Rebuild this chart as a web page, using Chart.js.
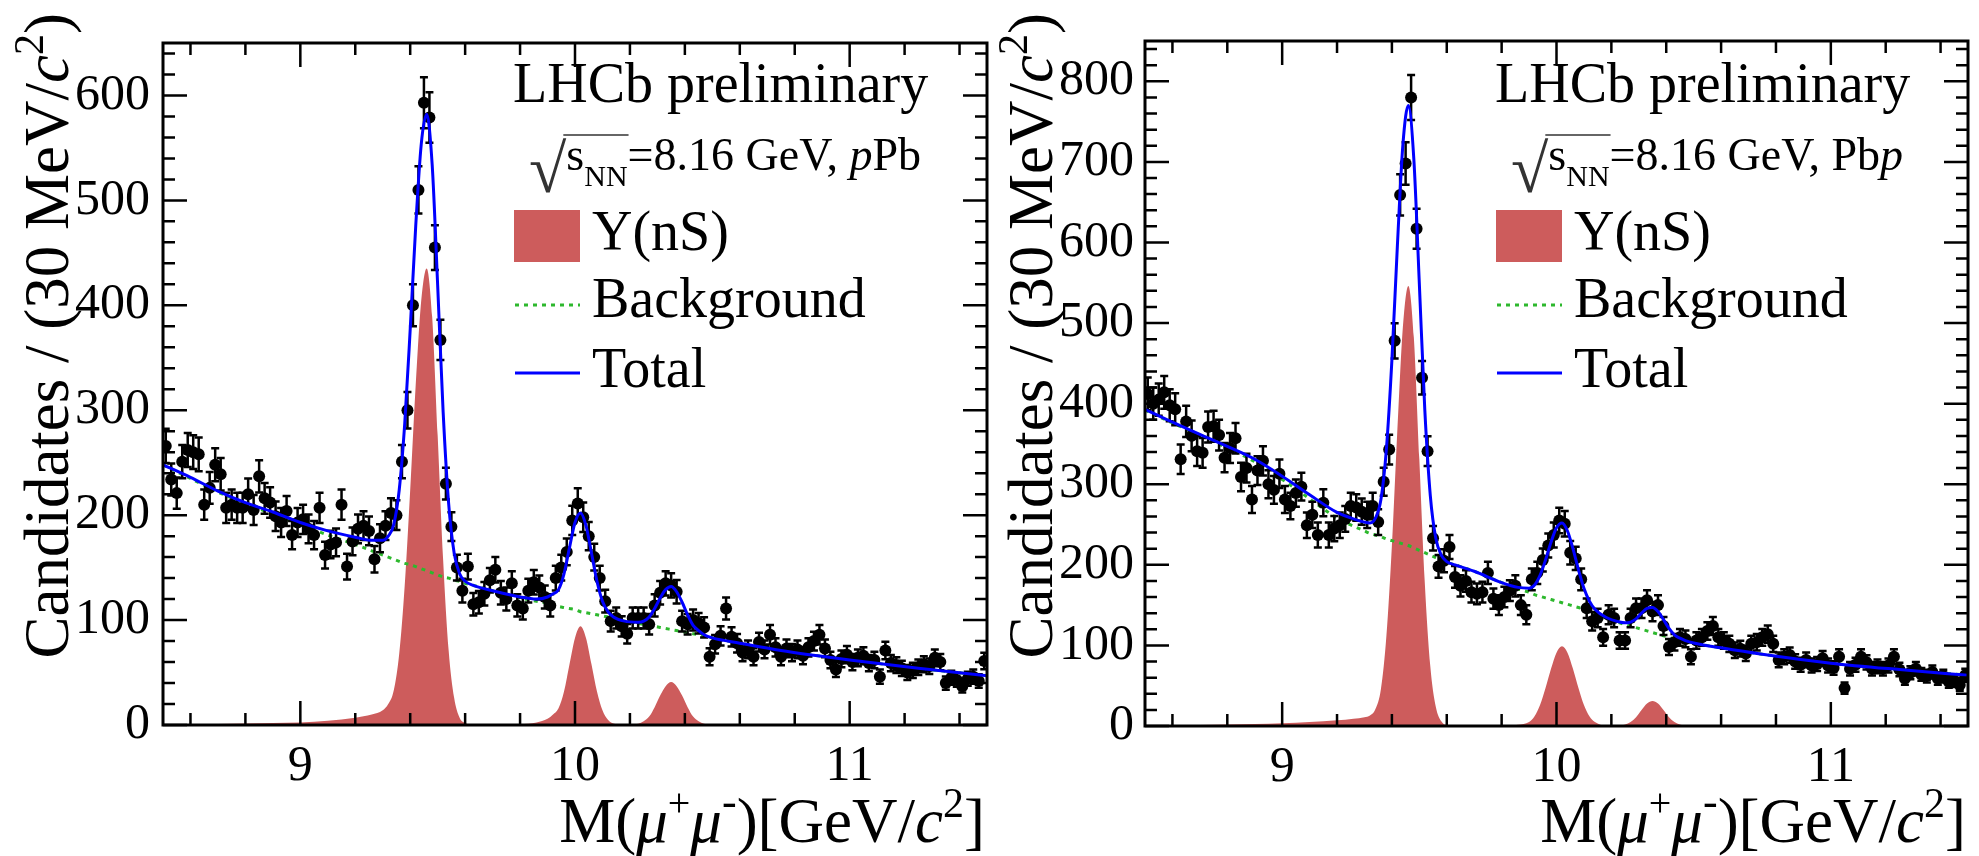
<!DOCTYPE html>
<html>
<head>
<meta charset="utf-8">
<script src="https://cdn.jsdelivr.net/npm/chart.js@4/dist/chart.umd.min.js"></script>
<style>
  html, body { margin: 0; padding: 0; background: #fff; }
  body { width: 1979px; height: 856px; position: relative; overflow: hidden; }
  canvas { position: absolute; top: 0; }
  #chartPPb { left: 0; }
  #chartPbp { left: 990px; }
</style>
</head>
<body>
<canvas id="chartPPb" width="995" height="856"></canvas>
<canvas id="chartPbp" width="989" height="856"></canvas>
<script>
// bin centres of the mass histogram (GeV/c^2)
const binCenters = [
  8.51,8.53,8.55,8.57,8.59,8.61,8.63,8.65,8.67,8.69,
  8.71,8.73,8.75,8.77,8.79,8.81,8.83,8.85,8.87,8.89,
  8.91,8.93,8.95,8.97,8.99,9.01,9.03,9.05,9.07,9.09,
  9.11,9.13,9.15,9.17,9.19,9.21,9.23,9.25,9.27,9.29,
  9.31,9.33,9.35,9.37,9.39,9.41,9.43,9.45,9.47,9.49,
  9.51,9.53,9.55,9.57,9.59,9.61,9.63,9.65,9.67,9.69,
  9.71,9.73,9.75,9.77,9.79,9.81,9.83,9.85,9.87,9.89,
  9.91,9.93,9.95,9.97,9.99,10.01,10.03,10.05,10.07,10.09,
  10.11,10.13,10.15,10.17,10.19,10.21,10.23,10.25,10.27,10.29,
  10.31,10.33,10.35,10.37,10.39,10.41,10.43,10.45,10.47,10.49,
  10.51,10.53,10.55,10.57,10.59,10.61,10.63,10.65,10.67,10.69,
  10.71,10.73,10.75,10.77,10.79,10.81,10.83,10.85,10.87,10.89,
  10.91,10.93,10.95,10.97,10.99,11.01,11.03,11.05,11.07,11.09,
  11.11,11.13,11.15,11.17,11.19,11.21,11.23,11.25,11.27,11.29,
  11.31,11.33,11.35,11.37,11.39,11.41,11.43,11.45,11.47,11.49
];

const countsPPb = [
  266,234,221,251,262,260,258,210,226,248,
  239,207,210,207,207,220,205,237,216,212,
  199,193,204,181,193,196,187,181,207,162,
  172,174,210,151,175,187,190,185,158,178,
  190,202,200,251,300,400,510,593,579,455,
  367,230,189,150,128,151,115,117,125,138,
  148,126,120,135,114,111,128,136,131,122,
  114,140,150,165,195,211,198,180,160,140,
  118,99,102,94,87,102,102,102,96,114,
  126,135,133,127,99,96,100,97,93,65,
  77,85,111,84,78,69,72,65,79,72,
  86,74,65,73,69,72,66,74,80,86,
  73,62,53,63,67,60,64,66,59,62,
  46,71,59,57,54,50,52,55,58,56,
  64,60,40,45,43,37,44,46,42,61
];

const countsPbp = [
  412,400,405,414,398,393,331,378,360,341,
  339,371,372,361,333,345,357,309,320,281,
  317,329,300,293,313,281,273,289,297,249,
  262,237,277,237,245,249,257,273,271,266,
  262,273,253,303,343,478,659,698,780,617,
  432,341,233,198,205,222,185,174,180,166,
  164,166,190,158,150,160,168,174,150,138,
  182,190,206,224,237,255,251,215,208,182,
  146,130,134,110,138,134,106,106,134,146,
  146,156,142,150,124,98,104,110,108,86,
  106,110,118,124,110,106,102,94,96,90,
  102,104,110,114,102,82,86,88,80,76,
  82,75,77,84,75,72,86,47,71,76,
  86,79,71,74,71,75,86,70,59,66,
  71,64,62,67,59,62,55,56,51,63
];

const fitMass = [
  8.50,8.60,8.70,8.80,8.90,9.00,9.10,9.20,9.26,9.30,
  9.32,9.34,9.36,9.38,9.40,9.42,9.44,9.46,9.48,9.50,
  9.52,9.54,9.56,9.58,9.60,9.63,9.70,9.80,9.86,9.90,
  9.92,9.94,9.96,9.98,10.00,10.02,10.04,10.06,10.08,10.10,
  10.12,10.14,10.18,10.23,10.25,10.27,10.29,10.31,10.33,10.35,
  10.37,10.39,10.41,10.43,10.45,10.47,10.50,10.60,10.75,11.00,
  11.25,11.50
];

const signalPPb = [
  0.5,0.7,1,1.5,2,2.5,4,7,10,14,
  20,33,68,133,224,324,404,435,389,276,
  157,71,26,7,2,0.5,0.3,0.8,2.5,6,
  10,16,32,58,83,94,83,58,32,14,
  5,1.4,0.3,1.2,3.5,8,17,28,37,41,
  37,28,17,8,3.5,1.2,0.3,0,0,0,
  0,0
];
const backgroundPPb = [
  248,235,222,211,201,191,181,172,166,162,
  160,158,156,154,153,151,149,147,145,143,
  141,140,138,137,135,133,128,121,118,116,
  115,113,112,111,110,108,107,106,105,104,
  103,102,99,97,96,95,94,93,92,91,
  90,89,88,87,86,85,83,78,71,62,
  54,47
];
const totalPPb = [
  248,236,223,212,203,193,185,179,176,176,
  180,191,224,287,377,475,553,582,534,419,
  298,211,164,144,137,133,128,122,120,122,
  125,129,144,169,193,202,190,164,137,118,
  108,103,99,98,99,103,111,121,129,132,
  127,117,105,95,90,86,83,78,71,62,
  54,47
];

const signalPbp = [
  0.6,0.9,1.3,2,2.5,3.5,5,7,9,11,
  13,21,46,112,224,368,495,546,482,331,
  177,74,24,6,1.2,0.3,0.2,0.5,1.5,5,
  12,26,47,71,91,99,91,71,47,26,
  12,5,0.5,0.6,2,5,11,20,28,31,
  28,20,11,5,2,0.6,0.1,0,0,0,
  0,0
];
const backgroundPbp = [
  392,376,361,345,328,306,282,258,248,242,
  239,237,235,232,230,228,226,224,221,218,
  215,212,209,206,203,200,192,178,170,166,
  163,161,159,157,155,153,151,149,147,145,
  143,140,134,128,126,124,122,120,118,116,
  114,112,110,108,107,105,103,97,89,78,
  70,63
];
const totalPbp = [
  393,377,362,347,331,310,287,265,257,253,
  252,258,281,344,454,596,721,770,703,549,
  392,286,233,212,204,200,192,178,172,171,
  175,187,206,228,246,252,242,220,194,171,
  155,145,135,129,128,129,133,140,146,147,
  142,132,121,113,109,106,103,97,89,78,
  70,63
];

const massTicks = [9, 10, 11];
const countTicksPPb = [0, 100, 200, 300, 400, 500, 600];
const countTicksPbp = [0, 100, 200, 300, 400, 500, 600, 700, 800];

const FONT = '"Liberation Serif", "Times New Roman", serif';
const RED = '#cd5c5c';
const GREEN = '#2db82d';
const BLUE = '#0000ff';

const panels = [
  {
    id: 'chartPPb', counts: countsPPb, signal: signalPPb, background: backgroundPPb, total: totalPPb,
    yMax: 650, yTicks: countTicksPPb,
    beam: [{ text: '=8.16 GeV, ', size: 46 }, { text: 'p', size: 46, italic: true }, { text: 'Pb', size: 46 }],
    box: { left: 163, top: 14, right: 8, bottom: 131 }, titleX: 68, labelPad: 13
  },
  {
    id: 'chartPbp', counts: countsPbp, signal: signalPbp, background: backgroundPbp, total: totalPbp,
    yMax: 850, yTicks: countTicksPbp,
    beam: [{ text: '=8.16 GeV, Pb', size: 46 }, { text: 'p', size: 46, italic: true }],
    box: { left: 155, top: 13, right: 11, bottom: 130 }, titleX: 62, labelPad: 11
  }
];

const yTitleParts = [
  { text: 'Candidates / (30 MeV/', size: 63 },
  { text: 'c', size: 63, italic: true },
  { text: '2', size: 42, dy: -25 },
  { text: ')', size: 63 }
];
const xTitleParts = [
  { text: 'M(', size: 63 },
  { text: 'μ', size: 63, italic: true },
  { text: '+', size: 40, dy: -26 },
  { text: 'μ', size: 63, italic: true },
  { text: '-', size: 44, dy: -26 },
  { text: ')[GeV/', size: 63 },
  { text: 'c', size: 63, italic: true },
  { text: '2', size: 42, dy: -25 },
  { text: ']', size: 63 }
];

function setFont(ctx, size, italic) {
  ctx.font = (italic ? 'italic ' : '') + size + 'px ' + FONT;
}

function drawParts(ctx, parts, x, y, align) {
  let w = 0;
  parts.forEach(p => { setFont(ctx, p.size, p.italic); w += ctx.measureText(p.text).width; });
  let cx = align === 'right' ? x - w : x;
  parts.forEach(p => {
    setFont(ctx, p.size, p.italic);
    ctx.fillText(p.text, cx, y + (p.dy || 0));
    cx += ctx.measureText(p.text).width;
  });
  return cx;
}

function toPoints(xs, ys) {
  return xs.map((x, i) => ({ x: x, y: ys[i] }));
}

function drawErrorBars(chart, meta) {
  const { ctx, chartArea: a, scales: { y } } = chart;
  ctx.save();
  ctx.beginPath();
  ctx.rect(a.left, a.top, a.right - a.left, a.bottom - a.top);
  ctx.clip();
  ctx.strokeStyle = '#000';
  ctx.lineWidth = 2.5;
  meta.data.forEach((pt, i) => {
    const v = meta._parsed[i].y;
    const err = Math.sqrt(v);
    const top = y.getPixelForValue(v + err);
    const bot = y.getPixelForValue(v - err);
    ctx.beginPath();
    ctx.moveTo(pt.x, top); ctx.lineTo(pt.x, bot);
    ctx.moveTo(pt.x - 4, top); ctx.lineTo(pt.x + 4, top);
    ctx.moveTo(pt.x - 4, bot); ctx.lineTo(pt.x + 4, bot);
    ctx.stroke();
  });
  ctx.restore();
}

function drawFrame(chart) {
  const { ctx, chartArea: a, scales: { x, y } } = chart;
  ctx.save();
  ctx.strokeStyle = '#000';
  ctx.lineWidth = 3;
  ctx.strokeRect(a.left, a.top, a.right - a.left, a.bottom - a.top);
  ctx.lineWidth = 2.5;
  ctx.beginPath();
  for (let k = Math.ceil(x.min * 5); k <= Math.floor(x.max * 5); k++) {
    const px = x.getPixelForValue(k / 5);
    const len = k % 5 === 0 ? 24 : 12;
    ctx.moveTo(px, a.bottom); ctx.lineTo(px, a.bottom - len);
    ctx.moveTo(px, a.top); ctx.lineTo(px, a.top + len);
  }
  for (let k = 0; k <= Math.floor(y.max / 20); k++) {
    const py = y.getPixelForValue(k * 20);
    const len = k % 5 === 0 ? 24 : 12;
    ctx.moveTo(a.left, py); ctx.lineTo(a.left + len, py);
    ctx.moveTo(a.right, py); ctx.lineTo(a.right - len, py);
  }
  ctx.stroke();

  // mass labels under the frame
  ctx.fillStyle = '#000';
  ctx.textAlign = 'center';
  ctx.textBaseline = 'alphabetic';
  setFont(ctx, 50, false);
  massTicks.forEach(v => ctx.fillText(String(v), x.getPixelForValue(v), a.bottom + 55));
  ctx.restore();
}

function drawLegend(ctx, L, panel) {
  ctx.save();
  ctx.textAlign = 'left';
  ctx.textBaseline = 'alphabetic';
  ctx.fillStyle = '#000';
  drawParts(ctx, [{ text: 'LHCb preliminary', size: 56 }], L + 350, 102);

  ctx.fillStyle = '#333';
  setFont(ctx, 68, false);
  ctx.fillText('√', L + 366, 192);
  const rx = L + 366 + ctx.measureText('√').width;
  ctx.fillStyle = '#000';
  let cx = drawParts(ctx, [{ text: 's', size: 46 }], rx, 170);
  cx = drawParts(ctx, [{ text: 'NN', size: 30 }], cx, 186);
  ctx.strokeStyle = '#333';
  ctx.lineWidth = 1.5;
  ctx.beginPath();
  ctx.moveTo(rx - 3, 135); ctx.lineTo(cx + 1, 135);
  ctx.stroke();
  drawParts(ctx, panel.beam, cx, 170);

  ctx.fillStyle = RED;
  ctx.fillRect(L + 351, 210, 66, 52);
  ctx.lineWidth = 3;
  ctx.strokeStyle = GREEN;
  ctx.setLineDash([4, 5]);
  ctx.beginPath(); ctx.moveTo(L + 352, 305); ctx.lineTo(L + 417, 305); ctx.stroke();
  ctx.setLineDash([]);
  ctx.strokeStyle = BLUE;
  ctx.beginPath(); ctx.moveTo(L + 352, 373); ctx.lineTo(L + 417, 373); ctx.stroke();

  ctx.fillStyle = '#000';
  drawParts(ctx, [{ text: 'Υ(nS)', size: 56 }], L + 429, 250);
  drawParts(ctx, [{ text: 'Background', size: 56 }], L + 429, 317);
  drawParts(ctx, [{ text: 'Total', size: 56 }], L + 429, 387);
  ctx.restore();
}

function panelDecor(panel) {
  return {
    id: 'panelDecor',
    afterDatasetDraw(chart, args) {
      if (args.meta.type === 'scatter') drawErrorBars(chart, args.meta);
    },
    afterDraw(chart) {
      const { ctx, chartArea: a } = chart;
      drawFrame(chart);
      drawLegend(ctx, a.left, panel);

      ctx.save();
      ctx.fillStyle = '#000';
      ctx.textAlign = 'left';
      ctx.textBaseline = 'alphabetic';
      drawParts(ctx, xTitleParts, a.right - 2, 842, 'right');
      ctx.translate(panel.titleX, 13);
      ctx.rotate(-Math.PI / 2);
      drawParts(ctx, yTitleParts, 0, 0, 'right');
      ctx.restore();
    }
  };
}

function makeChart(panel) {
  const tickFont = { family: FONT, size: 50 };
  return new Chart(document.getElementById(panel.id), {
    type: 'line',
    data: {
      datasets: [
        { label: 'Total', data: toPoints(fitMass, panel.total), borderColor: BLUE, borderWidth: 3,
          pointRadius: 0, fill: false, cubicInterpolationMode: 'monotone', order: 0 },
        { label: 'Data', type: 'scatter', data: toPoints(binCenters, panel.counts), pointRadius: 6,
          pointBackgroundColor: '#000', pointBorderWidth: 0, order: 1 },
        { label: 'Background', data: toPoints(fitMass, panel.background), borderColor: GREEN, borderWidth: 3,
          borderDash: [4, 5], pointRadius: 0, fill: false, cubicInterpolationMode: 'monotone', order: 2 },
        { label: 'Υ(nS)', data: toPoints(fitMass, panel.signal), borderWidth: 0, backgroundColor: RED,
          fill: 'origin', pointRadius: 0, cubicInterpolationMode: 'monotone', order: 3 }
      ]
    },
    options: {
      responsive: false,
      animation: false,
      devicePixelRatio: 1,
      layout: { padding: { left: 0, top: panel.box.top, right: panel.box.right, bottom: 0 } },
      plugins: { legend: { display: false }, tooltip: { enabled: false } },
      scales: {
        x: {
          type: 'linear', min: 8.5, max: 11.5,
          grid: { display: false, drawTicks: false },
          border: { display: false },
          ticks: { display: false },
          afterBuildTicks: s => { s.ticks = massTicks.map(v => ({ value: v })); },
          afterFit: s => { s.height = panel.box.bottom; }
        },
        y: {
          type: 'linear', min: 0, max: panel.yMax,
          grid: { display: false, drawTicks: false },
          border: { display: false },
          ticks: { color: '#000', font: tickFont, padding: panel.labelPad, autoSkip: false },
          afterBuildTicks: s => { s.ticks = panel.yTicks.map(v => ({ value: v })); },
          afterFit: s => { s.width = panel.box.left; }
        }
      }
    },
    plugins: [panelDecor(panel)]
  });
}

document.addEventListener('DOMContentLoaded', () => {
  panels.forEach(makeChart);
});
</script>
</body>
</html>
